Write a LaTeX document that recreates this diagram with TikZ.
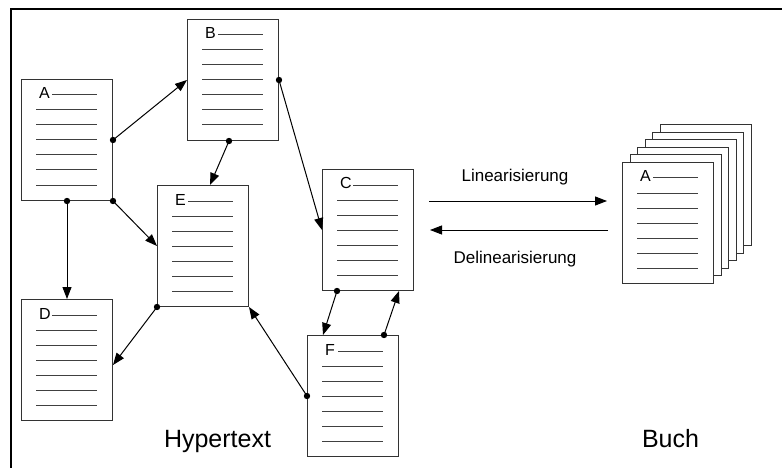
\documentclass[tikz,border=0pt]{standalone}
\usepackage{fontspec}
\setmainfont{Liberation Sans}
\usetikzlibrary{arrows.meta,calc}

\tikzset{
  sheet/.style={draw=black!80, fill=white, line width=1pt, minimum width=91pt,
    minimum height=121pt, inner sep=0pt, anchor=north west},
  ruling/.style={draw=black!75, line width=1pt},
  sheetletter/.style={font=\fontsize{16}{16}\selectfont, inner sep=0pt, anchor=base west},
  link/.style={draw=black, line width=1pt, -{Triangle[length=12pt,width=9pt]}},
  knot/.style={fill=black},
  caption/.style={font=\fontsize{17}{17}\selectfont, inner sep=0pt, anchor=base},
  title/.style={font=\fontsize{25}{25}\selectfont, inner sep=0pt, anchor=base},
}

% a ruled sheet: name, left, top, letter
\newcommand\rulesheet[4]{%
  \node[sheet] (#1) at (#2,#3) {};
  \node[sheetletter] (#1-letter) at (#2+18,#3+20) {#4};
  \draw[ruling] (#2+31,#3+16) -- (#2+76,#3+16);
  \foreach \k in {1,...,6}{\draw[ruling] (#2+15,#3+16+15*\k) -- (#2+76,#3+16+15*\k);}
}

% a hyperlink: dot at the source, arrow at the target
\newcommand\hlink[2]{%
  \fill[knot] (#1) circle (3.2pt);
  \draw[link] (#1) -- (#2);
}

\begin{document}
\begin{tikzpicture}[x=1pt,y=-1pt]
  \useasboundingbox (0,0) rectangle (782,468);
  \fill[white] (0,0) rectangle (782,468);

  % frame
  \draw[line width=2pt, line join=miter] (11,468) -- (11,9) -- (782,9);

  % hypertext sheets
  \rulesheet{A}{21}{79}{A}
  \rulesheet{B}{187}{19}{B}
  \rulesheet{E}{157}{185}{E}
  \rulesheet{D}{21}{299}{D}
  \rulesheet{C}{322}{169}{C}
  \rulesheet{F}{307}{335}{F}

  % book: stacked sheets
  \foreach \k in {5,4,3,2,1}{
    \node[sheet] (book-\k) at (622+7.6*\k,162-7.6*\k) {};
  }
  \rulesheet{book}{622}{162}{A}

  % links
  \hlink{A.east}{B.west}
  \hlink{A.south east}{E.west}
  \hlink{A.south}{D.north}
  \hlink{[xshift=-4pt]B.south}{[xshift=7pt]E.north}
  \hlink{B.east}{C.west}
  \hlink{E.south west}{[yshift=-5pt]D.east}
  \hlink{F.west}{E.south east}
  \hlink{[xshift=15pt]C.south west}{[xshift=16pt]F.north west}
  \hlink{[xshift=-15pt]F.north east}{[xshift=-15pt]C.south east}

  % linearisation arrows
  \coordinate (lin-a) at ($(C.east)+(15,-29)$);
  \coordinate (lin-b) at ($(lin-a -| book.west)+(-15,0)$);
  \coordinate (delin-a) at ($(C.east -| book.west)+(-14,0)$);
  \coordinate (delin-b) at ($(C.east)+(16,0)$);
  \draw[link] (lin-a) -- (lin-b);
  \draw[link] (delin-a) -- (delin-b);
  \node[caption] (lin-text) at (515,182) {Linearisierung};
  \node[caption] (delin-text) at (515,263) {Delinearisierung};

  % titles
  \node[title] (hyper-title) at (217.5,447) {Hypertext};
  \node[title] (book-title) at (670.5,447) {Buch};
\end{tikzpicture}
\end{document}
